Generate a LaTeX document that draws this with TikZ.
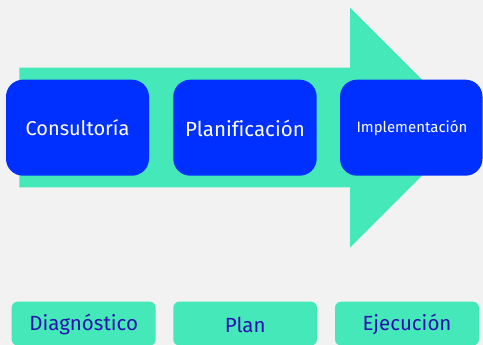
\documentclass[tikz,border=0pt]{standalone}
\usepackage{fontspec}
\setmainfont{Fira Sans}[Ligatures=NoCommon]
\definecolor{bg}{HTML}{F2F2F2}
\definecolor{mint}{HTML}{45E8B8}
\definecolor{bblue}{HTML}{0030FF}
\definecolor{dblue}{HTML}{2A10B0}
\begin{document}
\begin{tikzpicture}[x=1pt,y=-1pt,
  stage/.style={fill=bblue,rounded corners=17pt},
  result/.style={fill=mint,rounded corners=6pt},
  stagetext/.style={text=white,inner sep=0pt},
  resulttext/.style={text=dblue,inner sep=0pt,font=\fontsize{20.5}{24}\selectfont}]
\fill[bg] (0,0) rectangle (483,345);
\useasboundingbox (0,0) rectangle (483,345);
\fill[mint] (19.3,67.7) -- (350,67.7) -- (350,7.7) -- (470,127.7) -- (350,247.7) -- (350,187.3) -- (19.3,187.3) -- cycle;
\path[stage] (6,79.7) rectangle (149,175.7);
\path[stage] (173.3,79.7) rectangle (316.7,175.7);
\path[stage] (340,79.7) rectangle (482.5,175.7);
\node[stagetext,font=\fontsize{20}{24}\selectfont] (c1) at (77.5,128) {Consultoría};
\node[stagetext,font=\fontsize{20.5}{24}\selectfont] (c2) at (245,128) {Planificación};
\node[stagetext,font=\fontsize{15}{18}\selectfont] (c3) at (412,128) {Implementación};
\path[result] (11.7,301.7) rectangle (155.7,345.5);
\path[result] (173.3,301.7) rectangle (317,345.5);
\path[result] (335,301.7) rectangle (479,345.5);
\node[resulttext] (r1) at (83.7,324.5) {Diagnóstico};
\node[resulttext] (r2) at (245.2,324.5) {Plan};
\node[resulttext] (r3) at (407,324.5) {Ejecución};
\end{tikzpicture}
\end{document}
